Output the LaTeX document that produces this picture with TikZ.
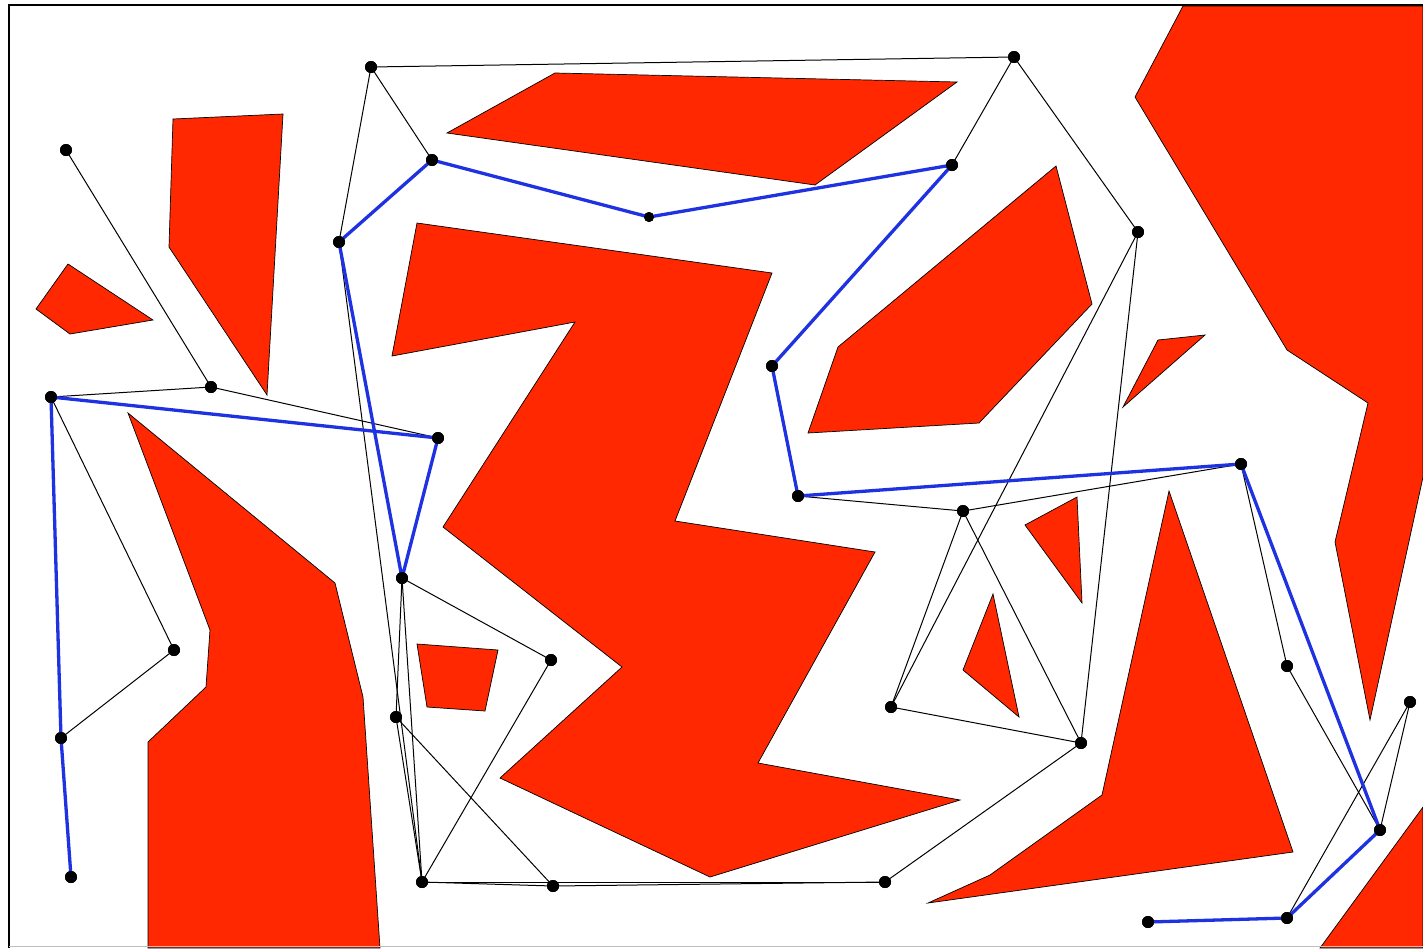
\documentclass[tikz,border=0pt]{standalone}
\definecolor{obred}{RGB}{255,40,0}
\definecolor{pathblue}{RGB}{30,50,225}
\tikzset{
  obst/.style={fill=obred,draw=black,line width=0.7pt,line join=miter},
  edge/.style={draw=black,line width=1pt},
  bluepath/.style={draw=pathblue,line width=3.3pt,line join=round,line cap=round},
  dot/.style={circle,fill=black,inner sep=0pt,minimum size=12pt}
}
\begin{document}
\begin{tikzpicture}[x=1pt,y=-1pt]
\useasboundingbox (0,0) rectangle (1423,948);
\fill[white] (0,0) rectangle (1423,948);
% obstacles
\path[obst] (68,264) -- (153,320) -- (70,334) -- (36,309) -- cycle;
\path[obst] (173,119) -- (283,114) -- (267,395) -- (169,247) -- cycle;
\path[obst] (555,73) -- (957,82) -- (815,185) -- (447,133) -- cycle;
\path[obst] (417,223) -- (772,273) -- (675,521) -- (875,552) -- (758,763) -- (960,800) -- (710,877) -- (500,778) -- (622,667) -- (443,527) -- (575,322) -- (392,356) -- cycle;
\path[obst] (1056,166) -- (1092,304) -- (979,423) -- (808,433) -- (838,347) -- cycle;
\path[obst] (1158,340) -- (1205,335) -- (1123,407) -- cycle;
\path[obst] (1183,6) -- (1423,6) -- (1423,477) -- (1370,720) -- (1335,542) -- (1368,403) -- (1287,350) -- (1135,97) -- cycle;
\path[obst] (1423,807) -- (1423,948) -- (1320,948) -- cycle;
\path[obst] (1169,491) -- (1293,852) -- (928,903) -- (990,875) -- (1102,795) -- cycle;
\path[obst] (1077,497) -- (1082,603) -- (1025,525) -- cycle;
\path[obst] (993,594) -- (1019,717) -- (963,670) -- cycle;
\path[obst] (417,644) -- (498,650) -- (485,711) -- (427,707) -- cycle;
\path[obst] (128,413) -- (335,583) -- (363,697) -- (380,948) -- (148,948) -- (148,742) -- (206,687) -- (210,630) -- cycle;
% frame
\draw[black,line width=2.3pt] (9,948) -- (9,5) -- (1423,5);
\draw[gray!50,line width=1pt] (9,946.5) -- (1423,946.5);
% nodes
\node[dot] (n1) at (371,67) {};
\node[dot] (n2) at (1014,57) {};
\node[dot] (n3) at (432,160) {};
\node[dot,minimum size=10pt] (n4) at (649,217) {};
\node[dot] (n5) at (952,165) {};
\node[dot] (n6) at (66,150) {};
\node[dot] (n7) at (339,242) {};
\node[dot] (n8) at (1138,232) {};
\node[dot] (n9) at (772,366) {};
\node[dot] (n10) at (211,387) {};
\node[dot] (n11) at (51,397) {};
\node[dot] (n12) at (438,438) {};
\node[dot] (n13) at (798,496) {};
\node[dot] (n14) at (1241,464) {};
\node[dot] (n15) at (963,511) {};
\node[dot] (n16) at (402,578) {};
\node[dot] (n17) at (174,650) {};
\node[dot] (n18) at (551,660) {};
\node[dot] (n19) at (1287,666) {};
\node[dot] (n20) at (891,707) {};
\node[dot] (n21) at (396,717) {};
\node[dot] (n22) at (1410,702) {};
\node[dot] (n23) at (61,738) {};
\node[dot] (n24) at (1081,743) {};
\node[dot] (n25) at (1380,830) {};
\node[dot] (n26) at (71,877) {};
\node[dot] (n27) at (422,882) {};
\node[dot] (n28) at (553,886) {};
\node[dot] (n29) at (885,882) {};
\node[dot] (n30) at (1148,922) {};
\node[dot] (n31) at (1287,918) {};
% roadmap edges
\foreach \a/\b in {n1/n2,n1/n3,n1/n7,n2/n5,n2/n8,n6/n10,n10/n11,n10/n12,n11/n17,n17/n23,
  n7/n27,n16/n21,n16/n27,n21/n27,n16/n18,n18/n27,n21/n28,n27/n28,n28/n29,n27/n29,
  n29/n24,n20/n24,n20/n15,n20/n8,n8/n24,n15/n24,n13/n15,n15/n14,n14/n19,n19/n25,n22/n25,n22/n31}
  \draw[edge] (\a.center) -- (\b.center);
% path
\draw[bluepath] (n26.center) -- (n23.center) -- (n11.center) -- (n12.center) -- (n16.center) -- (n7.center) -- (n3.center) -- (n4.center) -- (n5.center) -- (n9.center) -- (n13.center) -- (n14.center) -- (n25.center) -- (n31.center) -- (n30.center);
% redraw dots on top
\foreach \n in {n1,n2,n3,n5,n6,n7,n8,n9,n10,n11,n12,n13,n14,n15,n16,n17,n18,n19,n20,n21,n22,n23,n24,n25,n26,n27,n28,n29,n30,n31}
  \fill[black] (\n.center) circle (6pt);
\fill[black] (n4.center) circle (5pt);
\end{tikzpicture}
\end{document}
